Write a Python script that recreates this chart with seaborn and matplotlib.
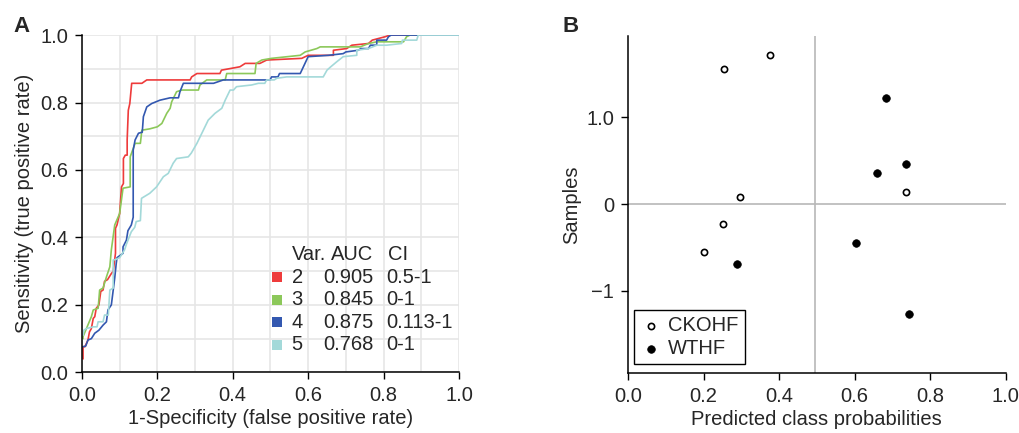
import numpy as np
import pandas as pd
import seaborn as sns
import matplotlib.pyplot as plt
from matplotlib.ticker import MultipleLocator

sns.set_style('ticks')
plt.rcParams['font.family'] = ['Liberation Sans', 'DejaVu Sans']
plt.rcParams['font.size'] = 14.5

# ---- panel A: ROC curves (vertices) ----
fpr_2 = [0.003, 0.003, 0.008, 0.016, 0.02, 0.025, 0.03, 0.034, 0.038, 0.045, 0.05, 0.056, 0.06, 0.068,
         0.078, 0.083, 0.089, 0.089, 0.093, 0.1, 0.105, 0.11, 0.11, 0.115, 0.12, 0.12, 0.123, 0.127,
         0.132, 0.159, 0.172, 0.287, 0.291, 0.305, 0.366, 0.37, 0.419, 0.433, 0.472, 0.49, 0.583, 0.6,
         0.667, 0.667, 0.702, 0.716, 0.76, 0.77, 0.804, 0.817, 1.0]
tpr_2 = [0.04, 0.076, 0.076, 0.096, 0.12, 0.13, 0.16, 0.165, 0.19, 0.2, 0.24, 0.244, 0.27, 0.275,
         0.293, 0.3, 0.353, 0.427, 0.437, 0.471, 0.55, 0.56, 0.634, 0.644, 0.644, 0.69, 0.777, 0.797,
         0.857, 0.857, 0.867, 0.867, 0.876, 0.886, 0.886, 0.896, 0.906, 0.916, 0.916, 0.926, 0.931, 0.94,
         0.94, 0.955, 0.96, 0.97, 0.975, 0.985, 0.995, 1.0, 1.0]

fpr_3 = [0.003, 0.003, 0.012, 0.025, 0.03, 0.043, 0.047, 0.056, 0.065, 0.074, 0.078, 0.087, 0.1, 0.109,
         0.128, 0.128, 0.141, 0.155, 0.159, 0.18, 0.2, 0.212, 0.225, 0.234, 0.238, 0.251, 0.265, 0.309,
         0.313, 0.331, 0.38, 0.384, 0.459, 0.462, 0.477, 0.503, 0.579, 0.592, 0.623, 0.632, 0.738, 0.76,
         0.782, 0.853, 0.861, 0.87, 1.0]
tpr_3 = [0.1, 0.106, 0.13, 0.165, 0.185, 0.19, 0.244, 0.25, 0.283, 0.313, 0.363, 0.437, 0.471, 0.546,
         0.55, 0.639, 0.679, 0.679, 0.718, 0.722, 0.728, 0.738, 0.768, 0.783, 0.802, 0.832, 0.837, 0.837,
         0.852, 0.867, 0.867, 0.886, 0.886, 0.916, 0.926, 0.931, 0.94, 0.95, 0.96, 0.965, 0.965, 0.975,
         0.98, 0.98, 0.995, 1.0, 1.0]

fpr_4 = [0.003, 0.01, 0.016, 0.025, 0.034, 0.045, 0.056, 0.065, 0.069, 0.078, 0.083, 0.087, 0.091, 0.093,
         0.109, 0.109, 0.118, 0.122, 0.131, 0.136, 0.136, 0.141, 0.15, 0.16, 0.163, 0.172, 0.185, 0.207,
         0.234, 0.256, 0.26, 0.269, 0.349, 0.375, 0.499, 0.503, 0.52, 0.524, 0.579, 0.6, 0.654, 0.693,
         0.7, 0.733, 0.74, 0.76, 0.765, 0.782, 0.782, 0.808, 0.813, 0.82, 1.0]
tpr_4 = [0.076, 0.078, 0.096, 0.1, 0.116, 0.125, 0.14, 0.15, 0.185, 0.2, 0.244, 0.28, 0.323, 0.34,
         0.353, 0.372, 0.392, 0.42, 0.437, 0.46, 0.659, 0.689, 0.709, 0.712, 0.758, 0.787, 0.797, 0.807,
         0.814, 0.814, 0.832, 0.857, 0.857, 0.867, 0.867, 0.876, 0.876, 0.886, 0.886, 0.936, 0.94, 0.945,
         0.95, 0.955, 0.96, 0.96, 0.97, 0.97, 0.985, 0.985, 0.995, 1.0, 1.0]

fpr_5 = [0.003, 0.005, 0.012, 0.03, 0.04, 0.043, 0.056, 0.06, 0.07, 0.074, 0.083, 0.083, 0.09, 0.1,
         0.113, 0.118, 0.131, 0.14, 0.144, 0.155, 0.158, 0.18, 0.198, 0.216, 0.229, 0.242, 0.251, 0.282,
         0.29, 0.305, 0.322, 0.335, 0.353, 0.371, 0.38, 0.393, 0.402, 0.41, 0.45, 0.468, 0.485, 0.49,
         0.51, 0.517, 0.543, 0.64, 0.65, 0.66, 0.676, 0.693, 0.729, 0.729, 0.76, 0.782, 0.808, 0.848,
         0.85, 0.888, 0.892, 1.0]
tpr_5 = [0.11, 0.125, 0.13, 0.135, 0.135, 0.15, 0.15, 0.17, 0.17, 0.244, 0.25, 0.333, 0.335, 0.34,
         0.363, 0.38, 0.417, 0.43, 0.447, 0.45, 0.516, 0.531, 0.55, 0.58, 0.59, 0.62, 0.634, 0.639,
         0.65, 0.679, 0.718, 0.748, 0.768, 0.783, 0.807, 0.837, 0.837, 0.847, 0.852, 0.857, 0.857, 0.867,
         0.867, 0.872, 0.876, 0.876, 0.896, 0.906, 0.921, 0.936, 0.94, 0.955, 0.96, 0.97, 0.97, 0.975,
         0.985, 0.985, 1.0, 1.0]

variables = ['2', '3', '4', '5']
auc = ['0.905', '0.845', '0.875', '0.768']
ci = ['0.5-1', '0-1', '0.113-1', '0-1']
roc_colors = ['#ee3b3b', '#8cc85a', '#3358b0', '#a3d9d9']

# ---- panel B: predicted class probabilities ----
ckohf_prob = [0.254, 0.377, 0.296, 0.252, 0.736, 0.201]
ckohf_sample = [1.548, 1.716, 0.077, -0.226, 0.134, -0.555]
wthf_prob = [0.683, 0.736, 0.659, 0.29, 0.603, 0.743]
wthf_sample = [1.215, 0.46, 0.353, -0.69, -0.445, -1.264]

roc = pd.concat([
    pd.DataFrame({'fpr': f, 'tpr': t, 'var': v})
    for f, t, v in zip([fpr_2, fpr_3, fpr_4, fpr_5], [tpr_2, tpr_3, tpr_4, tpr_5], variables)
])

fig = plt.figure(figsize=(10.19, 4.33), dpi=100)
axA = fig.add_axes([0.0804, 0.140, 0.370, 0.779])
axB = fig.add_axes([0.6163, 0.1386, 0.3705, 0.778])

sns.lineplot(data=roc, x='fpr', y='tpr', hue='var', palette=roc_colors, sort=False,
             estimator=None, linewidth=1.2, legend=False, ax=axA)
axA.set_xlim(0, 1)
axA.set_ylim(0, 1)
axA.xaxis.set_major_locator(MultipleLocator(0.2))
axA.yaxis.set_major_locator(MultipleLocator(0.2))
axA.xaxis.set_minor_locator(MultipleLocator(0.1))
axA.yaxis.set_minor_locator(MultipleLocator(0.1))
axA.grid(which='both', color='#e6e6e6', linewidth=1.2)
axA.set_axisbelow(True)
axA.tick_params(which='minor', length=0)
axA.tick_params(which='major', length=5, width=1, color='black', pad=5)
axA.xaxis.set_major_formatter(lambda v, p: f'{v:.1f}')
axA.yaxis.set_major_formatter(lambda v, p: f'{v:.1f}')
axA.set_xlabel('1-Specificity (false positive rate)', labelpad=3)
axA.set_ylabel('Sensitivity (true positive rate)', labelpad=4)
sns.despine(ax=axA)
for s in ['left', 'bottom']:
    axA.spines[s].set_color('black')
    axA.spines[s].set_linewidth(1.1)

# table-like legend
row_y = 0.348
dy = 0.0665
axA.text(0.556, row_y, 'Var.', va='center', ha='left')
axA.text(0.66, row_y, 'AUC', va='center', ha='left')
axA.text(0.813, row_y, 'CI', va='center', ha='left')
for i, (v, a, c, col) in enumerate(zip(variables, auc, ci, roc_colors)):
    y = row_y - (i + 1) * dy
    axA.scatter([0.517], [y], marker='s', s=60, color=col, linewidths=0, zorder=5)
    axA.text(0.556, y, v, va='center', ha='left')
    axA.text(0.639, y, a, va='center', ha='left')
    axA.text(0.808, y, c, va='center', ha='left')

# panel B
axB.axhline(0, color='#b8b8b8', linewidth=1.2, zorder=0)
axB.axvline(0.495, color='#b8b8b8', linewidth=1.2, zorder=0)
sns.scatterplot(x=ckohf_prob, y=ckohf_sample, marker='o', s=20, facecolor='white',
                edgecolor='black', linewidth=1.2, label='CKOHF', ax=axB)
sns.scatterplot(x=wthf_prob, y=wthf_sample, marker='o', s=30, color='black',
                edgecolor='black', linewidth=0.5, label='WTHF', ax=axB)
axB.set_xlim(0, 1)
axB.set_ylim(-1.943, 1.931)
axB.set_xticks([0, 0.2, 0.4, 0.6, 0.8, 1.0])
axB.xaxis.set_major_formatter(lambda v, p: f'{v:.1f}')
axB.set_yticks([-1, 0, 1])
axB.set_yticklabels(['\u22121', '0', '1.0'])
axB.tick_params(length=5, width=1, color='black', pad=5)
axB.set_xlabel('Predicted class probabilities', labelpad=3)
axB.set_ylabel('Samples', labelpad=4)
sns.despine(ax=axB)
for s in ['left', 'bottom']:
    axB.spines[s].set_color('black')
    axB.spines[s].set_linewidth(1.1)
leg = axB.legend(loc='lower left', bbox_to_anchor=(0.016, 0.027), fancybox=False,
                 edgecolor='black', framealpha=1, borderpad=0.3, handletextpad=0.3,
                 labelspacing=0.2, handlelength=1.1, borderaxespad=0)
leg.get_frame().set_linewidth(1.0)

fig.text(0.013, 0.925, 'A', fontsize=16, fontweight='bold')
fig.text(0.552, 0.925, 'B', fontsize=16, fontweight='bold')

fig.savefig('out.png', dpi=100)
